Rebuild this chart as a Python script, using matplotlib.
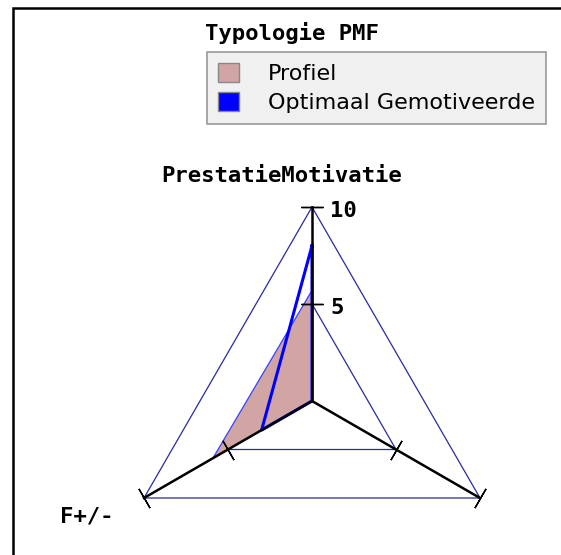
import numpy as np
import matplotlib
matplotlib.use("Agg")
import matplotlib.pyplot as plt
from matplotlib.patches import Patch, Rectangle

# radar axes, counter-clockwise starting at the top
categories = ["PrestatieMotivatie", "F+/-", ""]
profiel = [5.7, 5.9, 0]
optimaal = [8, 3, 0]
grid_levels = [5, 10]
tick_labels = ["5", "10"]
series_names = ["Profiel", "Optimaal Gemotiveerde"]
legend_title = "Typologie PMF"

PINK = "#d2a5a5"
BLUE = "#0000ff"
GRID = "#2a2aa0"
MONO = "DejaVu Sans Mono"

W, H = 561, 555
fig = plt.figure(figsize=(W / 100, H / 100), dpi=100)

# polar axes centred on the chart area, radius 194 px for value 10
cx, cy, R = 312, 401, 194
ax = fig.add_axes([(cx - R) / W, (H - cy - R) / H, 2 * R / W, 2 * R / H], projection="polar")
ax.set_theta_offset(np.pi / 2)
ax.set_ylim(0, 10)
ax.set_axis_off()

n = len(categories)
angles = np.arange(n) * 2 * np.pi / n


def closed(v):
    return np.append(v, v[0])


# triangular grid
for lvl in grid_levels:
    ax.plot(closed(angles), [lvl] * (n + 1), color=GRID, lw=0.9, clip_on=False, zorder=1)

# series
ax.fill(closed(angles), closed(profiel), facecolor=PINK, edgecolor="#3344ff", lw=0.9,
        clip_on=False, zorder=2)
ax.plot(closed(angles), closed(optimaal), color=BLUE, lw=2.2, clip_on=False, zorder=3)

# axis spokes with tick marks
for a in angles:
    ax.plot([a, a], [0, 10], color="black", lw=1.8, clip_on=False, zorder=4)
    ax.plot([a] * len(grid_levels), grid_levels, ls="none", marker=(2, 2, np.degrees(a) + 90),
            ms=16, mec="black", mew=1, clip_on=False, zorder=5)

# value labels on the first axis
for lvl, lbl in zip(grid_levels, tick_labels):
    ax.annotate(lbl, xy=(angles[0], lvl), xytext=(13, -3), textcoords="offset points",
                ha="left", va="center", family=MONO, fontweight="bold", fontsize=16,
                annotation_clip=False)

# category labels
label_offsets = [(-21.6, 22.3, "center"), (-21.6, -13.0, "right"), (21.6, -13.0, "left")]
for a, name, (dx, dy, ha) in zip(angles, categories, label_offsets):
    ax.annotate(name, xy=(a, 10), xytext=(dx, dy), textcoords="offset points",
                ha=ha, va="center", family=MONO, fontweight="bold", fontsize=16,
                annotation_clip=False)

# legend
fig.text(205 / W, 1 - 33 / H, legend_title, ha="left", va="center", family=MONO,
         fontweight="bold", fontsize=16)
handles = [Patch(facecolor=PINK, edgecolor="#888888", label=series_names[0]),
           Patch(facecolor=BLUE, edgecolor="#888888", label=series_names[1])]
leg = fig.legend(handles=handles, loc="upper left", bbox_to_anchor=(207 / W, 1 - 52 / H),
                 fontsize=16, frameon=True, fancybox=False, facecolor="#f0f0f0",
                 edgecolor="#999999", framealpha=1, handlelength=0.95, handleheight=0.95,
                 handletextpad=1.3, borderpad=0.5, labelspacing=0.35, borderaxespad=0)
leg.get_frame().set_linewidth(1.2)

# outer frame (only left and top edges fall inside the image)
fig.add_artist(Rectangle((13 / W, -0.05), 1.0, (H - 8) / H + 0.05, transform=fig.transFigure,
                         fill=False, edgecolor="black", lw=1.8))

fig.savefig("out.png", dpi=100)
